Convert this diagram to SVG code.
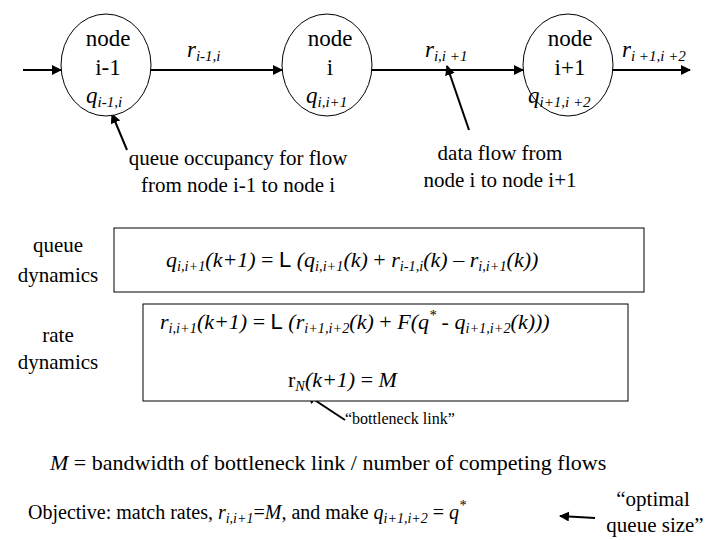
<svg xmlns="http://www.w3.org/2000/svg" width="720" height="540" viewBox="0 0 720 540">
<style>
text,tspan{font-family:"Liberation Serif","Times New Roman",serif;fill:#000}
.n{font-size:20px;text-anchor:middle}
.i{font-style:italic}
.s{font-family:"Liberation Sans",Arial,sans-serif;font-style:normal}
.e{fill:#fff;stroke:#000;stroke-width:1}
.c{stroke:#000;stroke-width:2;fill:none;marker-end:url(#ah)}
.b{fill:#fff;stroke:#000;stroke-width:1}
</style>
<defs><marker id="ah" viewBox="0 0 10 10" refX="9" refY="5" markerWidth="5" markerHeight="5" orient="auto"><path d="M0,0L10,5L0,10z" fill="#000"/></marker></defs>
<g id="connectors">
<line class="c" x1="23" y1="70" x2="61" y2="70"/>
<line class="c" x1="151" y1="70" x2="282" y2="70"/>
<line class="c" x1="372" y1="70" x2="523" y2="70"/>
<line class="c" x1="613" y1="70" x2="690" y2="70"/>
<line class="c" x1="127" y1="150" x2="112" y2="114"/>
<line class="c" x1="469" y1="130" x2="447" y2="66"/>
<line class="c" x1="345" y1="420" x2="307" y2="395"/>
<line class="c" x1="595" y1="518" x2="560" y2="516"/>
</g>
<g id="node-i-1"><ellipse class="e" cx="106" cy="65" rx="45" ry="51"/>
<text class="n" transform="translate(108,46) scale(1.15)">node</text><text class="n" transform="translate(108,75) scale(1.15)">i-1</text>
<text class="i" x="86" y="103" font-size="23">q<tspan font-size="15" dy="4">i-1,i</tspan></text></g>
<g id="node-i"><ellipse class="e" cx="327" cy="65" rx="45" ry="51"/>
<text class="n" transform="translate(330,46) scale(1.15)">node</text><text class="n" transform="translate(330,75) scale(1.15)">i</text>
<text class="i" x="306" y="103" font-size="23">q<tspan font-size="15" dy="4">i,i+1</tspan></text></g>
<g id="node-i+1"><ellipse class="e" cx="568" cy="65" rx="45" ry="51"/>
<text class="n" transform="translate(570,46) scale(1.15)">node</text><text class="n" transform="translate(570,75) scale(1.15)">i+1</text>
<text class="i" x="528" y="103" font-size="23">q<tspan font-size="15" dy="4">i+1,i +2</tspan></text></g>
<g id="labels">
<text class="i" x="187" y="57" font-size="23">r<tspan font-size="15" dy="4">i-1,i</tspan></text>
<text class="i" x="425" y="57" font-size="23">r<tspan font-size="15" dy="4">i,i +1</tspan></text>
<text class="i" x="622" y="57" font-size="23">r<tspan font-size="15" dy="4">i +1,i +2</tspan></text>
<text class="n" transform="translate(238,165) scale(1.05)">queue occupancy for flow</text>
<text class="n" transform="translate(238,192) scale(1.05)">from node i-1 to node i</text>
<text class="n" transform="translate(500,160) scale(1.05)">data flow from</text>
<text class="n" transform="translate(500,187) scale(1.05)">node i to node i+1</text>
<text class="n" transform="translate(58,252) scale(1.05)">queue</text>
<text class="n" transform="translate(58,282) scale(1.05)">dynamics</text>
<text class="n" transform="translate(58,342) scale(1.05)">rate</text>
<text class="n" transform="translate(58,369) scale(1.05)">dynamics</text>
</g>
<g id="box-queue"><rect class="b" x="114" y="228" width="530" height="64"/>
<text transform="translate(166,267) scale(1.1)" font-size="20"><tspan class="i">q</tspan><tspan class="i" font-size="13" dy="4">i,i+1</tspan><tspan class="i" dy="-4">(k+1)</tspan> = <tspan class="s">L</tspan> <tspan class="i">(q</tspan><tspan class="i" font-size="13" dy="4">i,i+1</tspan><tspan class="i" dy="-4">(k)</tspan> + <tspan class="i">r</tspan><tspan class="i" font-size="13" dy="4">i-1,i</tspan><tspan class="i" dy="-4">(k)</tspan> – <tspan class="i">r</tspan><tspan class="i" font-size="13" dy="4">i,i+1</tspan><tspan class="i" dy="-4">(k))</tspan></text></g>
<g id="box-rate"><rect class="b" x="143" y="304" width="485" height="97"/>
<text transform="translate(160,329) scale(1.1)" font-size="20"><tspan class="i">r</tspan><tspan class="i" font-size="13" dy="4">i,i+1</tspan><tspan class="i" dy="-4">(k+1)</tspan> = <tspan class="s">L</tspan> <tspan class="i">(r</tspan><tspan class="i" font-size="13" dy="4">i+1,i+2</tspan><tspan class="i" dy="-4">(k)</tspan> + <tspan class="i">F(q</tspan><tspan class="i" font-size="13" dy="-8">*</tspan><tspan class="i" dy="8"> - q</tspan><tspan class="i" font-size="13" dy="4">i+1,i+2</tspan><tspan class="i" dy="-4">(k)))</tspan></text>
<text transform="translate(288,387) scale(1.1)" font-size="20">r<tspan class="i" font-size="13" dy="4">N</tspan><tspan class="i" dy="-4">(k+1)</tspan> = <tspan class="i">M</tspan></text></g>
<g id="notes">
<text x="345" y="424" font-size="16">“bottleneck link”</text>
<text transform="translate(50,470) scale(1.1)" font-size="20"><tspan class="i">M</tspan> = bandwidth of bottleneck link / number of competing flows</text>
<text x="28" y="519" font-size="20">Objective: match rates, <tspan class="i">r</tspan><tspan class="i" font-size="14" dy="4">i,i+1</tspan><tspan dy="-4">=</tspan><tspan class="i">M,</tspan> and make <tspan class="i">q</tspan><tspan class="i" font-size="14" dy="4">i+1,i+2</tspan><tspan dy="-4"> = </tspan><tspan class="i">q</tspan><tspan class="i" font-size="14" dy="-9">*</tspan></text>
<text class="n" transform="translate(653,506) scale(1.05)">“optimal</text>
<text class="n" transform="translate(655,532) scale(1.05)">queue size”</text>
</g>
</svg>
